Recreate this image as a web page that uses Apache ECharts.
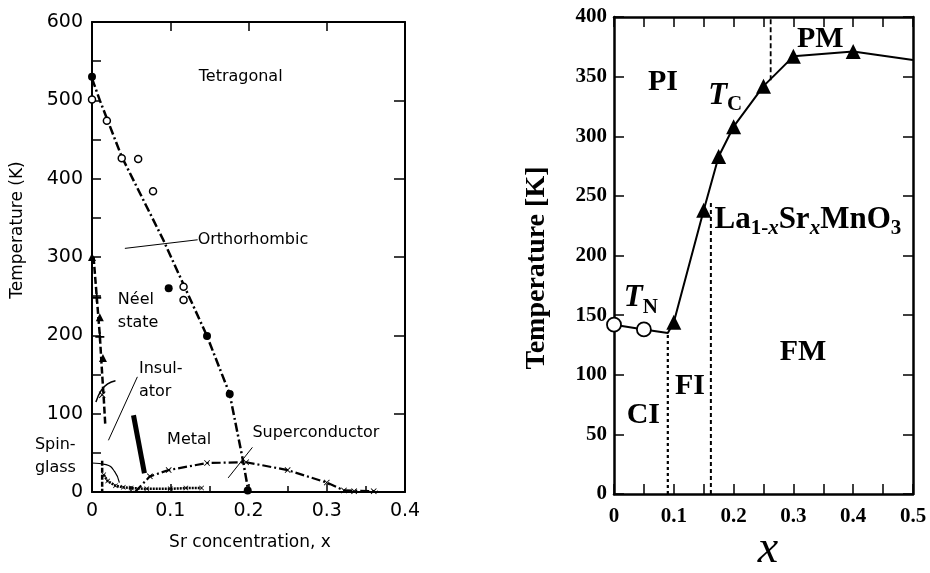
<!DOCTYPE html>
<html><head><meta charset="utf-8">
<script src="https://cdn.jsdelivr.net/npm/echarts@6/dist/echarts.min.js"></script>
<style>html,body{margin:0;padding:0;background:#fff}#c{width:930px;height:573px}</style>
</head><body><div id="c"></div>
<script>
// ---------- Left panel data (Sr concentration x, Temperature K) ----------
const structLine   = [[0,528],[0.01,500],[0.038,428],[0.091,322],[0.147,199],[0.176,125],[0.193,40],[0.2,0]];
const structFilled = [[0,530],[0.098,260],[0.147,199],[0.176,125],[0.199,2]];
const structOpen   = [[0,501],[0.019,474],[0.038,426],[0.059,425],[0.078,384],[0.117,262],[0.117,245]];
const neelLine     = [[0.002,300],[0.006,250],[0.01,200],[0.013,150],[0.015,120],[0.017,85]];
const neelTri      = [[0,300],[0.01,223],[0.014,171]];
const neelPlus     = [[0.006,248],[0.01,198]];
const neelCross    = [[0.013,124]];
const domeLine     = [[0.055,0],[0.074,20],[0.098,28],[0.147,37],[0.197,38],[0.25,28],[0.30,12],[0.322,2],[0.365,1]];
const domeCross    = [[0.074,20],[0.098,28],[0.147,37],[0.197,38],[0.25,28],[0.30,12],[0.322,2],[0.335,1],[0.36,1]];
const spinLine     = [[0.015,22],[0.02,14],[0.03,8],[0.04,6],[0.05,5],[0.07,4],[0.1,4],[0.12,5],[0.14,5]];
const spinVert     = [[0.013,40],[0.013,0]];
const metalBar     = [[0.053,98],[0.067,24]];
const pointerOrtho = [[0.042,311],[0.135,322]];
const pointerIns   = [[0.021,66],[0.058,147]];
const pointerIns2  = [[0.005,115],[0.012,130],[0.02,138],[0.03,142]];
const pointerSC    = [[0.205,57],[0.174,18]];
const pointerSpin  = [[0,37],[0.018,35],[0.029,26],[0.035,12]];
const leftLabelText = ['Tetragonal','Orthorhombic','Néel\nstate','Insul-\nator','Metal','Superconductor','Spin-\nglass'];
const leftLabelPos  = [[0.19,530],[0.135,322],[0.033,230],[0.06,143],[0.096,66],[0.205,75],[-0.073,46]];
const leftXTicks = [0,0.1,0.2,0.3,0.4];
const leftYTicks = [0,100,200,300,400,500,600];

// ---------- Right panel data ----------
const tcLine      = [[0,142],[0.05,138],[0.09,135],[0.1,144],[0.15,238],[0.175,283],[0.2,308],[0.25,342],[0.3,367],[0.4,371],[0.5,364]];
const tnCircles   = [[0,142],[0.05,138]];
const tcTriangles = [[0.1,144],[0.15,238],[0.175,283],[0.2,308],[0.25,342],[0.3,367],[0.4,371]];
const bndCI_FI    = [[0.09,0],[0.09,135]];
const bndFI_FM    = [[0.162,0],[0.162,246]];
const bndPM       = [[0.262,347],[0.262,400]];
const rightLabelText = ['{b|PI}','{it|T}{sub|C}','{b|PM}','{r|La}{sub|1-}{subi|x}{r|Sr}{subi|x}{r|MnO}{sub|3}','{it|T}{sub|N}','{b|FM}','{b|FI}','{b|CI}'];
const rightLabelPos  = [[0.082,345],[0.186,334],[0.345,381],[0.168,230],[0.045,164],[0.316,119],[0.127,90],[0.049,66]];
const rightXTicks = [0,0.1,0.2,0.3,0.4,0.5];
const rightYTicks = [0,50,100,150,200,250,300,350,400];

const SANS = 'DejaVu Sans';
const SERIF = 'Liberation Serif';
const chart = echarts.init(document.getElementById('c'), null, {renderer:'canvas'});

const crossPath = 'path://M0,1L1,0L5,4L9,0L10,1L6,5L10,9L9,10L5,6L1,10L0,9L4,5Z';
const plusPath  = 'path://M4,0H6V4H10V6H6V10H4V6H0V4H4Z';

function axisBase(color, width){
  return {axisLine:{show:true,onZero:false,lineStyle:{color:color,width:width}},
          splitLine:{show:false}};
}
const lx = leftXTicks, ly = leftYTicks, rx = rightXTicks, ry = rightYTicks;

function lineS(data, xi, yi, type, width){
  return {type:'line', xAxisIndex:xi, yAxisIndex:yi, data:data, symbol:'none', silent:true,
          lineStyle:{color:'#000', width:width, type:type}, animation:false, z:3};
}
function scatS(data, xi, yi, symbol, size, fill, border){
  return {type:'scatter', xAxisIndex:xi, yAxisIndex:yi, data:data, symbol:symbol, symbolSize:size,
          itemStyle:{color:fill, borderColor:'#000', borderWidth:border||0, opacity:1}, animation:false, z:4, silent:true};
}

const option = {
  backgroundColor:'#fff',
  animation:false,
  grid:[
    {left:92, top:22, width:313, height:470},
    {left:614, top:17, width:299, height:477}
  ],
  xAxis:[
    Object.assign(axisBase('#000',2),{gridIndex:0,type:'value',min:lx[0],max:lx[lx.length-1],interval:0.1,position:'bottom',
      axisTick:{show:true,inside:true,length:8,lineStyle:{color:'#000',width:1.5}},
      minorTick:{show:true,splitNumber:2,length:6,lineStyle:{color:'#000',width:1.5}},
      axisLabel:{show:true,margin:10,color:'#000',fontFamily:SANS,fontSize:19}}),
    Object.assign(axisBase('#000',2),{gridIndex:0,type:'value',min:lx[0],max:lx[lx.length-1],interval:0.1,position:'top',
      axisTick:{show:true,inside:true,length:9,lineStyle:{color:'#000',width:1.5}},axisLabel:{show:false}}),
    Object.assign(axisBase('#000',2.5),{gridIndex:1,type:'value',min:rx[0],max:rx[rx.length-1],interval:0.1,position:'bottom',
      axisTick:{show:true,inside:true,length:10,lineStyle:{color:'#000',width:1.5}},
      minorTick:{show:true,splitNumber:2,length:10,lineStyle:{color:'#000',width:1.5}},
      axisLabel:{show:true,margin:12,color:'#000',fontFamily:SERIF,fontWeight:'bold',fontSize:21}}),
    Object.assign(axisBase('#000',2.5),{gridIndex:1,type:'value',min:rx[0],max:rx[rx.length-1],interval:0.1,position:'top',
      axisTick:{show:true,inside:true,length:10,lineStyle:{color:'#000',width:1.5}},
      minorTick:{show:true,splitNumber:2,length:10,lineStyle:{color:'#000',width:1.5}},axisLabel:{show:false}})
  ],
  yAxis:[
    Object.assign(axisBase('#000',2),{gridIndex:0,type:'value',min:ly[0],max:ly[ly.length-1],interval:100,position:'left',
      axisTick:{show:true,inside:true,length:9,lineStyle:{color:'#000',width:1.5}},
      minorTick:{show:true,splitNumber:2,length:9,lineStyle:{color:'#000',width:1.5}},
      axisLabel:{show:true,margin:9,color:'#000',fontFamily:SANS,fontSize:19}}),
    Object.assign(axisBase('#000',2),{gridIndex:0,type:'value',min:ly[0],max:ly[ly.length-1],interval:100,position:'right',
      axisTick:{show:true,inside:true,length:11,lineStyle:{color:'#000',width:1.5}},axisLabel:{show:false}}),
    Object.assign(axisBase('#000',2.5),{gridIndex:1,type:'value',min:ry[0],max:ry[ry.length-1],interval:50,position:'left',
      axisTick:{show:true,inside:true,length:10,lineStyle:{color:'#000',width:1.5}},
      axisLabel:{show:true,margin:7,color:'#000',fontFamily:SERIF,fontWeight:'bold',fontSize:21}}),
    Object.assign(axisBase('#000',2.5),{gridIndex:1,type:'value',min:ry[0],max:ry[ry.length-1],interval:50,position:'right',
      axisTick:{show:true,inside:true,length:10,lineStyle:{color:'#000',width:1.5}},axisLabel:{show:false}})
  ],
  series:[
    // left panel
    lineS(structLine,0,0,[9,3,2,3],2.5),
    scatS(structFilled,0,0,'circle',8,'#000'),
    scatS(structOpen,0,0,'circle',7,'#fff',1.5),
    lineS(neelLine,0,0,[7,3],2.5),
    scatS(neelTri,0,0,'triangle',8,'#000'),
    scatS(neelPlus,0,0,plusPath,9,'#000'),
    scatS(neelCross,0,0,crossPath,7,'#000'),
    lineS(domeLine,0,0,[9,3,2,3],2.2),
    scatS(domeCross,0,0,crossPath,6,'#000'),
    lineS(spinLine,0,0,[2,1],2.5),
    scatS(spinLine,0,0,crossPath,5,'#000'),
    lineS(spinVert,0,0,[5,2],2.5),
    lineS(metalBar,0,0,'solid',5),
    lineS(pointerOrtho,0,0,'solid',1),
    lineS(pointerIns,0,0,'solid',1),
    Object.assign(lineS(pointerIns2,0,0,'solid',1.5),{smooth:true}),
    lineS(pointerSC,0,0,'solid',1),
    Object.assign(lineS(pointerSpin,0,0,'solid',1.2),{smooth:true}),
    // right panel
    lineS(bndCI_FI,2,2,[3,3],2.2),
    lineS(bndFI_FM,2,2,[4,3],2),
    lineS(bndPM,2,2,[5,3],1.8),
    lineS(tcLine,2,2,'solid',2),
    scatS(tnCircles,2,2,'circle',14,'#fff',1.8),
    scatS(tcTriangles,2,2,'triangle',15,'#000')
  ],
  graphic:[
    {type:'text',x:18,y:230,rotation:Math.PI/2,style:{text:'Temperature (K)',font:'17px "DejaVu Sans"',fill:'#000',align:'center',verticalAlign:'middle'}},
    {type:'text',x:250,y:543,style:{text:'Sr concentration, x',font:'17px "DejaVu Sans"',fill:'#000',align:'center',verticalAlign:'middle'}},
    {type:'text',x:537,y:268,rotation:Math.PI/2,style:{text:'Temperature [K]',font:'bold 28px "Liberation Serif"',fill:'#000',align:'center',verticalAlign:'middle'}},
    {type:'text',x:768,y:550,style:{text:'x',font:'italic 46px "Liberation Serif"',fill:'#000',align:'center',verticalAlign:'middle'}}
  ]
};
chart.setOption(option);

// region labels, placed at data coordinates through the axes
const rich = {
  b:{fontFamily:SERIF,fontWeight:'bold',fontSize:30,fill:'#000'},
  it:{fontFamily:SERIF,fontStyle:'italic',fontWeight:'bold',fontSize:31,fill:'#000'},
  r:{fontFamily:SERIF,fontWeight:'bold',fontSize:31,fill:'#000'},
  sub:{fontFamily:SERIF,fontWeight:'bold',fontSize:21,fill:'#000',padding:[18,0,0,0]},
  subi:{fontFamily:SERIF,fontStyle:'italic',fontWeight:'bold',fontSize:21,fill:'#000',padding:[18,0,0,0]}
};
const extra = [];
leftLabelText.forEach((t,i)=>{
  const p = chart.convertToPixel({gridIndex:0}, leftLabelPos[i]);
  extra.push({type:'text',x:p[0],y:p[1],z:10,style:{text:t,font:'16px "DejaVu Sans"',fill:'#000',lineHeight:23,
    align:(i===0?'center':'left'),verticalAlign:'middle'}});
});
rightLabelText.forEach((t,i)=>{
  const p = chart.convertToPixel({gridIndex:1}, rightLabelPos[i]);
  extra.push({type:'text',x:p[0],y:p[1],z:10,style:{text:t,rich:rich,fill:'#000',
    align:(i===3?'left':'center'),verticalAlign:'middle'}});
});
chart.setOption({graphic: option.graphic.concat(extra)});
</script></body></html>
